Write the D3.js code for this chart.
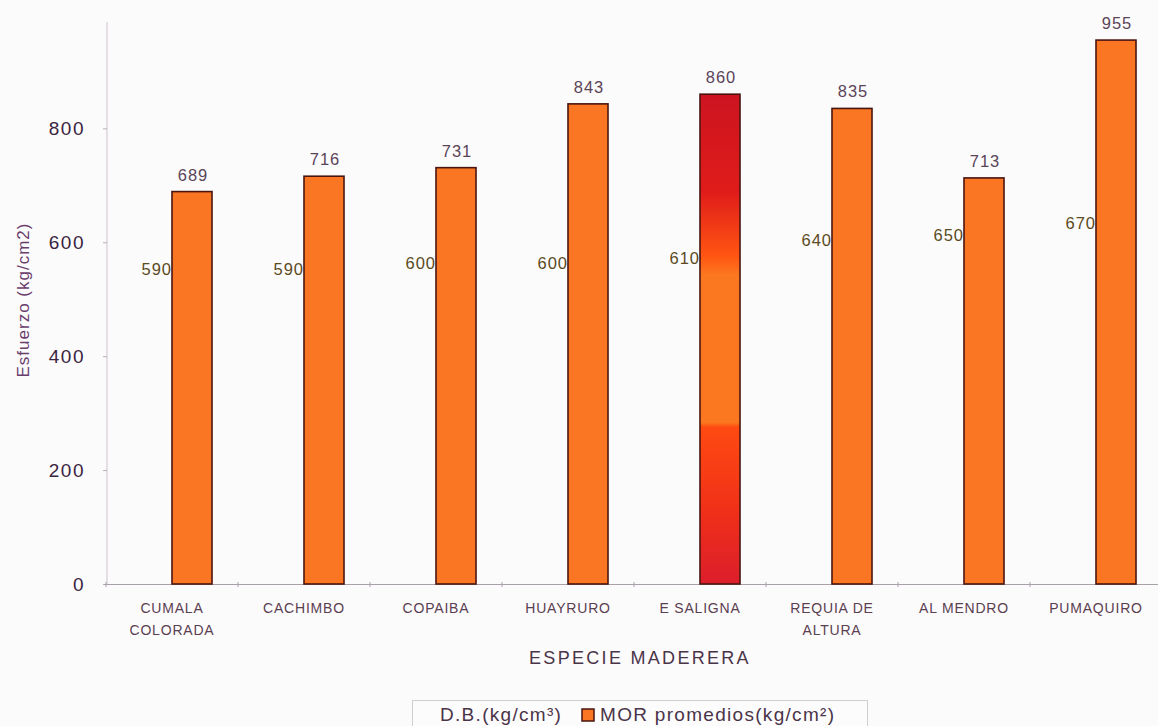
<!DOCTYPE html>
<html><head><meta charset="utf-8">
<script src="https://cdn.jsdelivr.net/npm/d3@7"></script>
<style>
body{margin:0;background:#fcfbfc;}
svg{display:block;font-family:"Liberation Sans",Arial,sans-serif;}
</style></head>
<body>
<svg id="chart" width="1158" height="726"></svg>
<script>
const categories = [["CUMALA","COLORADA"],["CACHIMBO"],["COPAIBA"],["HUAYRURO"],["E SALIGNA"],["REQUIA DE","ALTURA"],["AL MENDRO"],["PUMAQUIRO"]];
const dbValues = [590, 590, 600, 600, 610, 640, 650, 670];
const morValues = [689, 716, 731, 843, 860, 835, 713, 955];
const yTicks = [0, 200, 400, 600, 800];

const svg = d3.select("#chart");
const x0 = 106, x1 = 1162, yBase = 584;
const x = d3.scaleBand().domain(d3.range(categories.length)).range([x0, x1]).padding(0);
const y = d3.scaleLinear().domain([0, 985]).range([yBase, 23]);
const sub = d3.scaleBand().domain(["db","mor"]).range([0, 80]);
const off = (x.bandwidth() - 80) / 2;

const defs = svg.append("defs");
const g = defs.append("linearGradient").attr("id","salg").attr("x1",0).attr("y1",0).attr("x2",0).attr("y2",1);
[[0,"#cc1420"],[0.2,"#e01c1a"],[0.33,"#ff5512"],[0.37,"#fb7820"],[0.67,"#fb7820"],[0.68,"#ff4a12"],[0.85,"#f03018"],[1,"#dc1e2c"]]
  .forEach(([o,c]) => g.append("stop").attr("offset",o).attr("stop-color",c));

// y axis
const yAxis = svg.append("g").attr("transform",`translate(107,0)`)
  .call(d3.axisLeft(y).tickValues(yTicks).tickSize(4).tickPadding(18).tickFormat(d3.format("d")));
yAxis.select(".domain").attr("stroke","#cdc3cd").attr("d",`M0,${yBase}V22`);
yAxis.selectAll(".tick line").attr("stroke","#b8b0b8");
yAxis.selectAll(".tick text").attr("fill","#3a2440").attr("font-size",19).attr("letter-spacing",1.5)
  .attr("font-family","Liberation Sans, Arial");

// x axis
const xAxis = svg.append("g").attr("transform",`translate(0,${yBase})`)
  .call(d3.axisBottom(x).tickValues([]).tickSize(0));
xAxis.select(".domain").attr("stroke","#a8a0a8").attr("d",`M104,0.5H1158`);
d3.range(categories.length + 1).forEach(i => {
  const tx = i < categories.length ? x(i) : x1;
  xAxis.append("line").attr("x1",tx).attr("x2",tx).attr("y1",-2).attr("y2",3).attr("stroke","#a8a0a8");
});

// category labels
const lab = svg.append("g");
categories.forEach((c,i) => {
  const cx = x(i) + x.bandwidth()/2;
  const t = lab.append("text").attr("x", cx).attr("y", 613)
    .attr("text-anchor","middle").attr("fill","#5a4050").attr("font-size",14).attr("letter-spacing",0.8);
  c.forEach((line,k) => t.append("tspan").attr("x", cx).attr("dy", k===0?0:22).text(line));
});

// MOR bars
svg.append("g").selectAll("rect").data(morValues).join("rect")
  .attr("x",(d,i)=> x(i) + off + sub("mor"))
  .attr("y", d => y(d))
  .attr("width", sub.bandwidth())
  .attr("height", d => yBase - y(d))
  .attr("fill",(d,i)=> i===4 ? "url(#salg)" : "#fb7622")
  .attr("stroke","#4a1410").attr("stroke-width",1.6);

// MOR labels
svg.append("g").selectAll("text").data(morValues).join("text")
  .attr("x",(d,i)=> x(i) + off + sub("mor") + sub.bandwidth()/2 + 1)
  .attr("y", d => y(d) - 11)
  .attr("text-anchor","middle").attr("fill","#5a4458").attr("font-size",16.5).attr("letter-spacing",1)
  .text(d => d);

// D.B. (invisible bars) labels
svg.append("g").selectAll("text").data(dbValues).join("text")
  .attr("x",(d,i)=> x(i) + off + sub("mor"))
  .attr("y", d => y(d) + 27)
  .attr("text-anchor","end").attr("fill","#5a4a22").attr("font-size",16.5).attr("letter-spacing",1)
  .text(d => d);

// axis titles
svg.append("text").attr("transform","translate(29,300) rotate(-90)").attr("text-anchor","middle")
  .attr("fill","#6a3e6c").attr("font-size",17).attr("letter-spacing",1).text("Esfuerzo (kg/cm2)");
svg.append("text").attr("x",640).attr("y",664).attr("text-anchor","middle")
  .attr("fill","#4a3448").attr("font-size",18).attr("letter-spacing",2.3).text("ESPECIE MADERERA");

// legend
const lg = svg.append("g");
lg.append("rect").attr("x",412.5).attr("y",700.5).attr("width",455).attr("height",40)
  .attr("fill","#fdfcfd").attr("stroke","#d4ccd4");
lg.append("text").attr("x",440).attr("y",721).attr("fill","#4a3448").attr("font-size",19).attr("letter-spacing",1.3).text("D.B.(kg/cm³)");
lg.append("rect").attr("x",582).attr("y",709).attr("width",12).attr("height",12)
  .attr("fill","#fb7622").attr("stroke","#4a1410").attr("stroke-width",1.5);
lg.append("text").attr("x",600).attr("y",721).attr("fill","#4a3448").attr("font-size",19).attr("letter-spacing",1.3).text("MOR promedios(kg/cm²)");
</script>
</body></html>
